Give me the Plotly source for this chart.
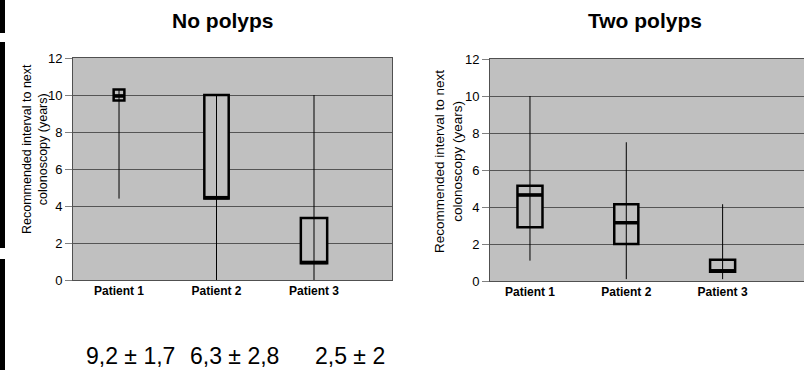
import plotly.graph_objects as go

patients = ["Patient 1", "Patient 2", "Patient 3"]
positions = [0, 1, 2]

# No polyps
np_low = [4.4, 0.0, 0.0]
np_q1 = [9.7, 4.4, 0.9]
np_med = [9.95, 4.45, 0.95]
np_q3 = [10.3, 10.0, 3.35]
np_high = [10.3, 10.0, 10.0]
np_width = [0.11, 0.25, 0.27]

# Two polyps
tp_low = [1.1, 0.1, 0.1]
tp_q1 = [2.9, 2.0, 0.5]
tp_med = [4.65, 3.15, 0.55]
tp_q3 = [5.15, 4.15, 1.15]
tp_high = [10.0, 7.5, 4.15]
tp_width = [0.26, 0.25, 0.26]

y_ticks = [0, 2, 4, 6, 8, 10, 12]
titles = ["No polyps", "Two polyps"]
y_title = "Recommended interval to next<br>colonoscopy (years)"
stats = ["9,2 ± 1,7", "6,3 ± 2,8", "2,5 ± 2"]

W, H = 804, 370
FONT = "Liberation Sans, Arial"
BG = "#c0c0c0"

fig = go.Figure()


def add_panel(xa, ya, low, q1, med, q3, high, widths):
    for i, p in enumerate(positions):
        # whiskers
        fig.add_trace(go.Scatter(x=[p, p], y=[low[i], high[i]], mode="lines",
                                 line=dict(color="black", width=1),
                                 xaxis=xa, yaxis=ya, showlegend=False, hoverinfo="skip"))
    for i, p in enumerate(positions):
        fig.add_trace(go.Box(x=[p], q1=[q1[i]], median=[med[i]], q3=[q3[i]],
                             lowerfence=[q1[i]], upperfence=[q3[i]],
                             width=widths[i], whiskerwidth=0,
                             line=dict(color="black", width=2.5), fillcolor=BG,
                             xaxis=xa, yaxis=ya, showlegend=False, hoverinfo="skip"))
        # thicker median line
        fig.add_trace(go.Scatter(x=[p - widths[i] / 2, p + widths[i] / 2], y=[med[i], med[i]],
                                 mode="lines", line=dict(color="black", width=3.5),
                                 xaxis=xa, yaxis=ya, showlegend=False, hoverinfo="skip"))


add_panel("x", "y", np_low, np_q1, np_med, np_q3, np_high, np_width)
add_panel("x2", "y2", tp_low, tp_q1, tp_med, tp_q3, tp_high, tp_width)

xcommon = dict(tickvals=positions, ticktext=["<b>" + p + "</b>" for p in patients],
               showgrid=False, zeroline=False,
               showline=True, linecolor="#505050", linewidth=1, mirror=True, ticks="",
               tickfont=dict(family=FONT, size=12, color="black"), automargin=False)
ycommon = dict(range=[0, 12], tickvals=y_ticks, showgrid=True, gridcolor="#555555", gridwidth=1,
               zeroline=False, showline=True, linecolor="#505050", linewidth=1, mirror=True,
               ticks="outside", ticklen=7, tickcolor="#808080",
               tickfont=dict(family=FONT, size=13, color="black"), automargin=False)

fig.update_layout(
    width=W, height=H, margin=dict(l=0, r=0, t=0, b=0),
    paper_bgcolor="white", plot_bgcolor=BG,
    xaxis=dict(domain=[73 / W, 392 / W], range=[-0.472, 2.8], anchor="y", **xcommon),
    yaxis=dict(domain=[1 - 280 / H, 1 - 58 / H], anchor="x", **ycommon),
    xaxis2=dict(domain=[490 / W, 1.0], range=[-0.415, 2.845], anchor="y2", **xcommon),
    yaxis2=dict(domain=[1 - 281 / H, 1 - 59 / H], anchor="x2", **ycommon),
)


def A(text, px, py, size, angle=0, bold=False):
    return dict(text=("<b>" + text + "</b>") if bold else text, x=px / W, y=1 - py / H,
                xref="paper", yref="paper", xanchor="center", yanchor="middle",
                textangle=angle, showarrow=False,
                font=dict(family=FONT, size=size, color="black"))


ann = [
    A(titles[0], 223, 21, 21, bold=True),
    A(titles[1], 645, 21, 21, bold=True),
    A(y_title, 35, 149, 12.5, angle=-90),
    A(y_title, 448, 162, 13.5, angle=-90),
]
for s, cx in zip(stats, [130, 234, 350]):
    ann.append(A(s, cx, 356, 23))
fig.update_layout(annotations=ann)

# black strips at the left edge (slide border)
for y0, y1 in [(0, 33), (42, 248), (259, 370)]:
    fig.add_shape(type="rect", xref="paper", yref="paper", x0=0, x1=5 / W,
                  y0=1 - y1 / H, y1=1 - y0 / H, fillcolor="black", line=dict(width=0), layer="above")

fig.write_html("out.html")
